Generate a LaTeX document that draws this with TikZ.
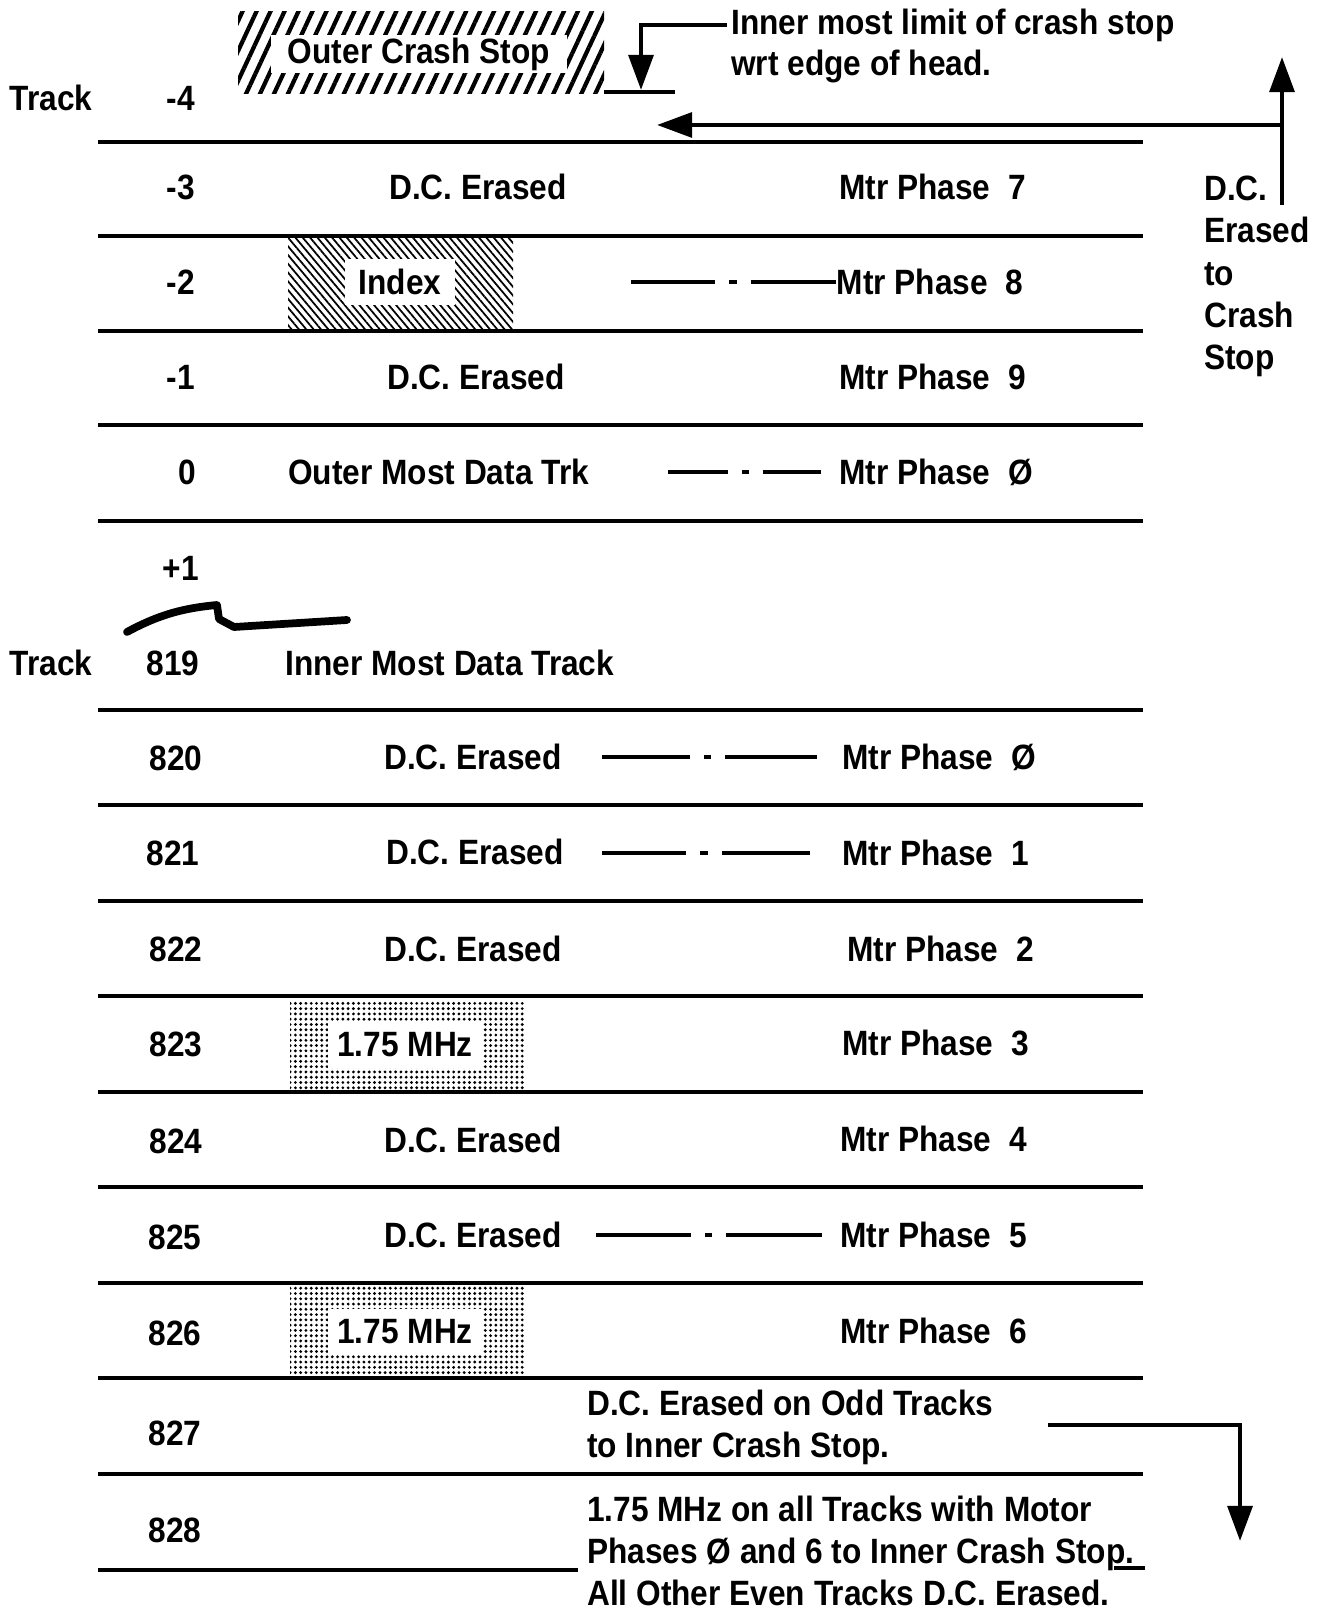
\documentclass[tikz,border=0pt]{standalone}
\usepackage{fontspec}
\setmainfont{Liberation Sans}[FakeStretch=0.9]
\usetikzlibrary{arrows.meta,patterns.meta}

\tikzset{
  lbl/.style={font=\bfseries, inner sep=1pt},
  rule/.style={line width=1pt},
  dashdot/.style={line width=0.9pt, dash pattern=on #1 off 4pt on 2pt off 4pt on 80pt},
  pointer/.style={line width=1.3pt, -{Triangle[length=10pt,width=7pt]}},
}

\begin{document}
\begin{tikzpicture}[x=0.01cm, y=-0.01cm]
\useasboundingbox (0,0) rectangle (1325,1610);

% outer crash stop and its limit
\fill[pattern={Lines[angle=65,distance=3.6pt,line width=1.2pt]}] (238,12) rectangle (604,94);
\node[lbl, fill=white, minimum width=84pt, minimum height=11pt, inner sep=0pt] (ocs) at (419,54) {Outer Crash Stop};
\node[lbl, anchor=west] (lim1) at (727,25) {Inner most limit of crash stop};
\node[lbl, anchor=west] (lim2) at (727,66) {wrt edge of head.};
\coordinate (limtip) at (641,90);
\draw[pointer] (lim1.west) -| (limtip);
\draw[rule] (604,92) -- (675,92);

\node[lbl] (trk1) at (51,98) {Track};
\node[lbl] (tm4) at (181,98) {-4};

% erased to crash stop
\node[lbl, align=left, anchor=north west] (dcnote) at (1200,172) {D.C.\\Erased\\to\\Crash\\Stop};
\coordinate (dcbot) at (1282,205);
\coordinate (dcmid) at (1282,125);
\coordinate (dctop) at (1282,57);
\coordinate (dcleft) at (657,125);
\draw[pointer] (dcbot) -- (dctop);
\draw[pointer] (dcmid) -- (dcleft);

% outer tracks
\draw[rule] (98,142) -- (1143,142);
\draw[rule] (98,236) -- (1143,236);
\draw[rule] (98,331) -- (1143,331);
\draw[rule] (98,425) -- (1143,425);
\draw[rule] (98,521) -- (1143,521);

\node[lbl] (tm3) at (181,187) {-3};
\node[lbl] (dcm3) at (478,187) {D.C. Erased};
\node[lbl, anchor=west] (mp7) at (835,187) {Mtr Phase\ \ 7};

\node[lbl] (tm2) at (181,282) {-2};
\fill[pattern={Lines[angle=-50,distance=1.6pt,line width=0.5pt]}] (288,238) rectangle (513,329);
\node[lbl, fill=white, minimum width=31pt, minimum height=13pt, inner sep=0pt] (idx) at (400,282) {Index};
\coordinate (d8) at (631,282);
\node[lbl, anchor=west, inner sep=0pt] (mp8) at (836,282) {Mtr Phase\ \ 8};
\draw[dashdot=24pt] (d8) -- (mp8.west);

\node[lbl] (tm1) at (181,377) {-1};
\node[lbl] (dcm1) at (476,377) {D.C. Erased};
\node[lbl, anchor=west] (mp9) at (835,377) {Mtr Phase\ \ 9};

\node[lbl] (t0) at (187,472) {0};
\node[lbl, anchor=west] (omd) at (284,472) {Outer Most Data Trk};
\coordinate (d0) at (668,472);
\node[lbl, anchor=west] (mp0) at (835,472) {Mtr Phase\ \ Ø};
\draw[dashdot=17pt, shorten >=4pt] (d0) -- (mp0.west);

\node[lbl] (tp1) at (181,568) {+1};
\draw[line width=2.2pt, line cap=round, line join=round] (127,632) .. controls (160,614) and (185,608) .. (217,605) -- (219,619) -- (234,627) -- (347,620);

% inner tracks
\node[lbl] (trk2) at (51,663) {Track};
\node[lbl] (t819) at (173,663) {819};
\node[lbl, anchor=west] (imd) at (281,663) {Inner Most Data Track};

\draw[rule] (98,710) -- (1143,710);
\draw[rule] (98,805) -- (1143,805);
\draw[rule] (98,901) -- (1143,901);
\draw[rule] (98,996) -- (1143,996);
\draw[rule] (98,1092) -- (1143,1092);
\draw[rule] (98,1187) -- (1143,1187);
\draw[rule] (98,1283) -- (1143,1283);
\draw[rule] (98,1378) -- (1143,1378);
\draw[rule] (98,1474) -- (1143,1474);
\draw[rule] (98,1570) -- (578,1570);
\draw[rule] (1114,1568) -- (1145,1568);

\node[lbl] (t820) at (176,758) {820};
\node[lbl] (dc820) at (473,757) {D.C. Erased};
\coordinate (d820) at (602,757);
\node[lbl, anchor=west] (mp20) at (838,757) {Mtr Phase\ \ Ø};
\draw[dashdot=25pt, shorten >=6pt] (d820) -- (mp20.west);

\node[lbl] (t821) at (173,853) {821};
\node[lbl] (dc821) at (475,852) {D.C. Erased};
\coordinate (d821) at (602,853);
\node[lbl, anchor=west] (mp21) at (838,853) {Mtr Phase\ \ 1};
\draw[dashdot=24pt, shorten >=8pt] (d821) -- (mp21.west);

\node[lbl] (t822) at (176,949) {822};
\node[lbl] (dc822) at (473,949) {D.C. Erased};
\node[lbl, anchor=west] (mp22) at (843,949) {Mtr Phase\ \ 2};

\node[lbl] (t823) at (176,1044) {823};
\fill[pattern={Dots[distance=1.5pt,radius=0.45pt]}] (290,1000) rectangle (525,1089);
\node[lbl, fill=white, minimum width=44pt, minimum height=13pt, inner sep=0pt] (mhz3) at (405,1045) {1.75 MHz};
\node[lbl, anchor=west] (mp23) at (838,1043) {Mtr Phase\ \ 3};

\node[lbl] (t824) at (176,1141) {824};
\node[lbl] (dc824) at (473,1140) {D.C. Erased};
\node[lbl, anchor=west] (mp24) at (836,1139) {Mtr Phase\ \ 4};

\node[lbl] (t825) at (175,1237) {825};
\node[lbl] (dc825) at (473,1235) {D.C. Erased};
\coordinate (d825) at (596,1235);
\node[lbl, anchor=west] (mp25) at (836,1235) {Mtr Phase\ \ 5};
\draw[dashdot=27pt, shorten >=4pt] (d825) -- (mp25.west);

\node[lbl] (t826) at (175,1333) {826};
\fill[pattern={Dots[distance=1.5pt,radius=0.45pt]}] (290,1286) rectangle (525,1376);
\node[lbl, fill=white, minimum width=44pt, minimum height=13pt, inner sep=0pt] (mhz6) at (405,1332) {1.75 MHz};
\node[lbl, anchor=west] (mp26) at (836,1331) {Mtr Phase\ \ 6};

% beyond the data area
\node[lbl] (t827) at (175,1433) {827};
\node[lbl, align=left, anchor=west] (odd) at (583,1427) {D.C. Erased on Odd Tracks\\to Inner Crash Stop.};
\coordinate (oddA) at (1048,1425);
\coordinate (oddtip) at (1240,1541);
\draw[pointer] (oddA) -| (oddtip);

\node[lbl] (t828) at (175,1530) {828};
\node[lbl, align=left, anchor=west] (even) at (583,1551) {1.75 MHz on all Tracks with Motor\\Phases Ø and 6 to Inner Crash Stop.\\All Other Even Tracks D.C. Erased.};
\end{tikzpicture}
\end{document}
